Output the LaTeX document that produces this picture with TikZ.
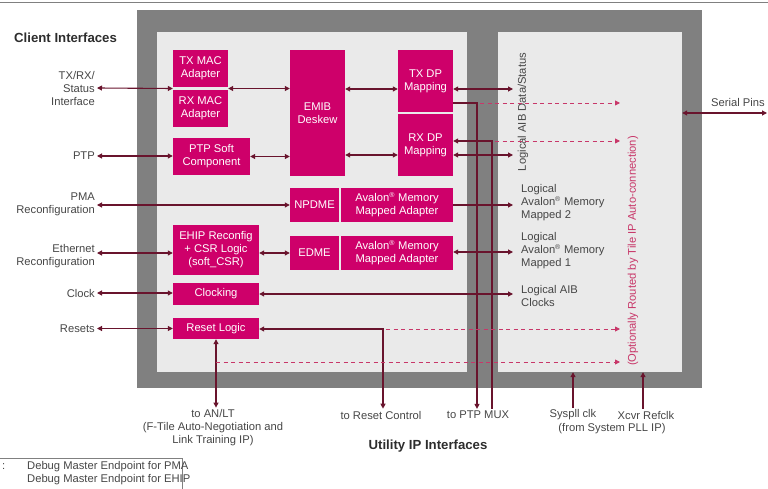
\documentclass[tikz,border=0pt]{standalone}
\usepackage{fontspec}
\setmainfont{Liberation Sans}
\usetikzlibrary{arrows.meta,calc}

\definecolor{framegray}{RGB}{128,128,128}
\definecolor{panelgray}{RGB}{234,234,234}
\definecolor{blockmag}{RGB}{206,0,106}
\definecolor{wirecol}{RGB}{105,20,45}
\definecolor{dashcol}{RGB}{200,55,105}
\definecolor{inkcol}{RGB}{70,70,70}
\definecolor{headcol}{RGB}{45,45,45}

\newcommand\lblfont{\fontsize{11.2}{13}\selectfont}
\newcommand\headfont{\bfseries\fontsize{13.2}{15}\selectfont}
\newcommand\regmark{\textsuperscript{\fontsize{7}{7}\selectfont ®}}

\tikzset{
  tip/.tip={Triangle[length=5pt,width=5pt]},
  blockbox/.style={fill=blockmag, text=white, align=center, inner sep=0pt, font=\lblfont},
  lbl/.style={text=inkcol, font=\lblfont, inner sep=2pt},
  head/.style={text=headcol, font=\headfont, inner sep=0pt},
  wire/.style={draw=wirecol, line width=1.1pt},
  bothway/.style={wire, {tip}-{tip}},
  oneway/.style={wire, -{tip}},
  autoline/.style={draw=dashcol, line width=0.9pt, dash pattern=on 4pt off 3.5pt, -{tip}},
}

\begin{document}
\begin{tikzpicture}[x=1pt,y=-1pt]
\useasboundingbox (0,0) rectangle (768,489);

% thin rule along the top
\draw[framegray, line width=0.9pt] (0,2) -- (768,2);

% IP frame and its two panels
\fill[framegray] (137,10) rectangle (702,388);
\node[fill=panelgray, minimum width=310pt, minimum height=340pt, inner sep=0pt] (core) at (312,202) {};
\node[fill=panelgray, minimum width=184pt, minimum height=340pt, inner sep=0pt] (tile) at (590,202) {};

% function blocks
\node[blockbox, minimum width=55pt, minimum height=37pt] (txmac) at (200.5,68.5) {TX MAC\\Adapter};
\node[blockbox, minimum width=55pt, minimum height=37pt] (rxmac) at (200.5,108.5) {RX MAC\\Adapter};
\node[blockbox, minimum width=77pt, minimum height=37pt] (ptpsc) at (211.5,156.5) {PTP Soft\\Component};
\node[blockbox, minimum width=55pt, minimum height=126pt] (emib) at (317.5,113) {EMIB\\Deskew};
\node[blockbox, minimum width=55pt, minimum height=62pt] (txdp) at (425.5,81) {TX DP\\Mapping};
\node[blockbox, minimum width=55pt, minimum height=62pt] (rxdp) at (425.5,145) {RX DP\\Mapping};
\node[blockbox, minimum width=49pt, minimum height=34pt] (npdme) at (314.5,205) {NPDME};
\node[blockbox, minimum width=112pt, minimum height=34pt] (avmm2) at (397,205) {Avalon\regmark{} Memory\\Mapped Adapter};
\node[blockbox, minimum width=49pt, minimum height=34pt] (edme) at (314.5,253) {EDME};
\node[blockbox, minimum width=112pt, minimum height=34pt] (avmm1) at (397,253) {Avalon\regmark{} Memory\\Mapped Adapter};
\node[blockbox, minimum width=86pt, minimum height=50pt] (ehip) at (216,250) {EHIP Reconfig\\+ CSR Logic\\(soft\_CSR)};
\node[blockbox, minimum width=86pt, minimum height=22pt] (clocking) at (216,294) {Clocking};
\node[blockbox, minimum width=86pt, minimum height=21pt] (rstlogic) at (216,328.5) {Reset Logic};

% headings
\node[head, anchor=west] (client) at (14,38) {Client Interfaces};
\node[head] (utility) at (428,446) {Utility IP Interfaces};

% client-side labels
\node[lbl, anchor=east, align=right] (ltx) at (97,88) {TX/RX/\\Status\\Interface};
\node[lbl, anchor=east, align=right] (lptp) at (97,156) {PTP};
\node[lbl, anchor=east, align=right] (lpma) at (97,204) {PMA\\Reconfiguration};
\node[lbl, anchor=east, align=right] (leth) at (97,256) {Ethernet\\Reconfiguration};
\node[lbl, anchor=east, align=right] (lclk) at (97,293) {Clock};
\node[lbl, anchor=east, align=right] (lrst) at (97,328.5) {Resets};

% tile-side labels
\node[lbl, rotate=90] (aibds) at (523,112) {Logical AIB Data/Status};
\node[lbl, anchor=west, align=left, inner sep=0pt] (lmm2) at (521,203) {Logical\\Avalon\regmark{} Memory\\Mapped 2};
\node[lbl, anchor=west, align=left, inner sep=0pt] (lmm1) at (521,251) {Logical\\Avalon\regmark{} Memory\\Mapped 1};
\node[lbl, anchor=west, align=left, inner sep=0pt] (laibclk) at (521,296) {Logical AIB\\Clocks};
\node[lbl, rotate=90, text=dashcol] (autotxt) at (633,251) {(Optionally Routed by Tile IP Auto-connection)};
\node[lbl] (serial) at (738,102) {Serial Pins};

% utility-side labels
\node[lbl, align=center] (anlt) at (213,428) {to AN/LT\\(F-Tile Auto-Negotiation and\\Link Training IP)};
\node[lbl] (rstctl) at (381,415) {to Reset Control};
\node[lbl] (ptpmux) at (478,415) {to PTP MUX};
\node[lbl] (syspll) at (573,415) {Syspll clk};
\node[lbl] (xcvr) at (646,415) {Xcvr Refclk};
\node[lbl] (syspllsrc) at (612,429) {(from System PLL IP)};

% legend
\draw[framegray, line width=0.8pt] (-5,458) rectangle (182,500);
\node[lbl, anchor=west, inner sep=0pt] (legcolon) at (2,467) {:};
\node[lbl, anchor=west, align=left, inner sep=0pt] (legend) at (27,473.5) {Debug Master Endpoint for PMA\\Debug Master Endpoint for EHIP};

% junctions and free ends
\coordinate (macgap) at ($(txmac.south west)!0.5!(rxmac.north west)$);
\coordinate (macgapE) at ($(txmac.south east)!0.5!(rxmac.north east)$);
\coordinate (aibtx) at (513,89);
\coordinate (aibrx) at (513,155);
\coordinate (mm2end) at (513,205);
\coordinate (mm1end) at (513,252);
\coordinate (clkend) at (513,294);
\coordinate (ethend) at (ehip.west |- edme.west);
\coordinate (txtap) at (477,103);
\coordinate (rxtap) at (492,141);
\coordinate (rsttap) at (383,329);
\coordinate (antap) at (216,362);
\coordinate (auto1) at (620,103);
\coordinate (auto2) at (620,141);
\coordinate (auto3) at (620,329);
\coordinate (auto4) at (620,362);
\coordinate (pinsend) at (767,113);

% client interfaces
\draw[bothway] (ltx.east) -- (macgap);
\draw[bothway] (lptp.east) -- (lptp.east -| ptpsc.west);
\draw[bothway] (lpma.east |- npdme.west) -- (npdme.west);
\draw[bothway] (leth.east |- ethend) -- (ethend);
\draw[bothway] (lclk.east) -- (lclk.east -| clocking.west);
\draw[bothway] (lrst.east) -- (lrst.east -| rstlogic.west);

% internal datapath
\draw[bothway] (macgapE) -- (macgapE -| emib.west);
\draw[bothway] (ptpsc.east) -- (ptpsc.east -| emib.west);
\draw[bothway] (emib.east |- aibtx) -- (aibtx -| txdp.west);
\draw[bothway] (emib.east |- aibrx) -- (aibrx -| rxdp.west);
\draw[bothway] (ehip.east |- edme.west) -- (edme.west);

% towards the tile
\draw[bothway] (txdp.east |- aibtx) -- (aibtx);
\draw[bothway] (rxdp.east |- aibrx) -- (aibrx);
\draw[oneway] (avmm2.east) -- (mm2end);
\draw[bothway] (avmm1.east |- mm1end) -- (mm1end);
\draw[bothway] (clocking.east) -- (clkend);

% PTP MUX taps
\draw[oneway] (txdp.east |- txtap) -- (txtap) -- (txtap |- ptpmux.north);
\draw[wire, {tip}-] (rxdp.east |- rxtap) -- (rxtap) -- (rxtap |- ptpmux.north);

% reset paths
\draw[bothway] (rstlogic.east |- rsttap) -- (rsttap) -- (rsttap |- rstctl.north);
\draw[bothway] (rstlogic.south -| antap) -- (antap |- anlt.north);

% optional auto-connection routes
\draw[autoline] ([xshift=3pt]txtap) -- (auto1);
\draw[autoline] ([xshift=3pt]rxtap) -- (auto2);
\draw[autoline] ([xshift=3pt]rsttap) -- (auto3);
\draw[autoline] (antap) -- (auto4);

% tile I/O
\draw[bothway] (tile.east |- pinsend) -- (pinsend);
\draw[oneway] (syspll.north) -- (syspll.north |- tile.south);
\draw[oneway] ([xshift=-3pt]xcvr.north) -- ([xshift=-3pt]xcvr.north |- tile.south);

\end{tikzpicture}
\end{document}
